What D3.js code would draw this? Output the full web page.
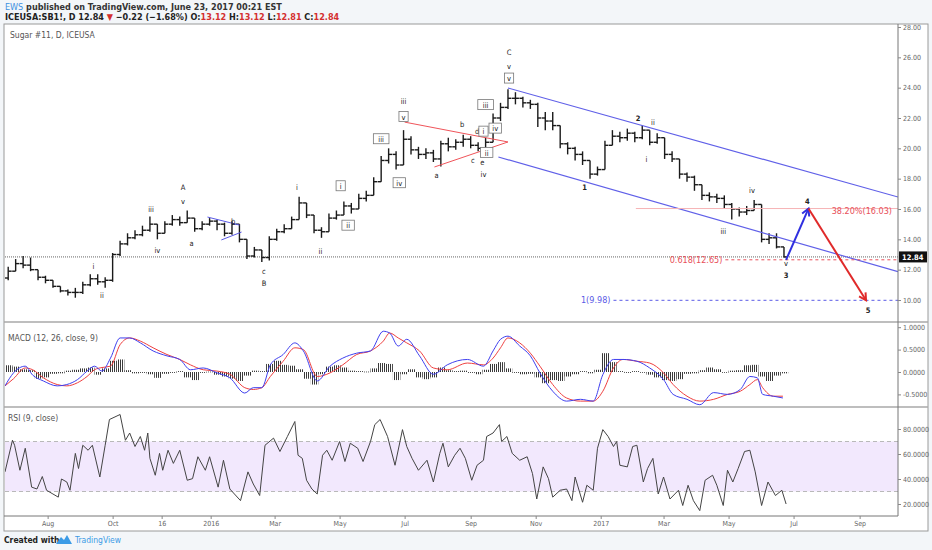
<!DOCTYPE html>
<html lang="en">
<head>
<meta charset="utf-8">
<title>Sugar #11, D, ICEUSA</title>
<script src="https://d3js.org/d3.v7.min.js"></script>
<style>
  body { margin: 0; background: #f3f6f9; }
  svg text { font-family: "Liberation Sans Narrow", "DejaVu Sans Condensed", "Liberation Sans", sans-serif; }
</style>
</head>
<body>
<script>
// first bar of the chart (weekly bars, day offsets counted from here)
const startDate = new Date(2015, 5, 22);
const endDate = new Date(2017, 9, 7);
const firstOpen = 11.45;

// weekly closes / highs / lows
const closes = [11.9,12.4,12.3,12.0,11.5,11.3,10.9,10.6,10.5,10.5,
  11.0,11.4,11.2,11.3,13.0,13.7,14.1,14.3,14.6,15.0,
  14.4,15.0,15.3,15.1,15.4,14.7,15.0,15.2,15.0,14.4,
  15.0,14.0,12.9,13.3,12.8,14.0,14.5,14.7,15.3,16.4,
  15.6,14.6,14.5,15.4,15.6,16.2,16.0,16.7,16.9,17.8,
  19.2,19.6,18.9,20.6,19.9,19.6,19.7,19.3,20.3,20.1,
  20.4,20.6,20.2,20.0,20.4,22.0,22.7,23.3,23.3,23.0,
  22.9,22.0,21.8,21.5,20.3,20.0,19.6,19.2,18.3,18.6,
  20.2,20.8,20.7,21.0,20.7,21.2,20.4,20.7,19.6,19.3,
  18.3,18.1,17.6,16.9,16.8,16.7,16.3,16.0,15.8,15.9,
  16.3,14.0,14.1,13.5,12.84];
const highs = [12.2,12.7,12.9,12.8,12.0,11.6,11.3,10.9,10.7,10.8,
  11.2,11.7,11.7,11.5,13.1,13.9,14.4,14.6,14.9,15.5,
  15.0,15.2,15.6,15.5,15.9,15.3,15.2,15.4,15.3,15.1,
  15.2,15.0,13.9,13.5,13.3,14.2,14.7,15.0,15.5,16.8,
  16.4,15.6,14.8,15.7,15.9,16.5,16.4,17.0,17.2,18.1,
  19.5,20.0,19.8,21.2,20.8,20.1,20.0,19.9,20.5,20.7,
  20.6,20.9,20.8,20.4,20.7,22.3,23.0,23.9,23.7,23.4,
  23.2,23.0,22.4,22.4,21.5,20.4,20.1,19.8,19.2,18.8,
  20.5,21.2,21.1,21.3,21.1,21.5,21.2,21.0,20.7,19.8,
  19.3,18.4,18.2,17.6,17.1,17.0,16.9,16.4,16.1,16.2,
  16.6,16.3,14.4,14.4,13.5];
const lows = [11.3,11.9,12.1,11.9,11.3,11.1,10.8,10.5,10.3,10.15,
  10.4,10.9,11.0,10.8,11.2,12.9,13.6,14.0,14.2,14.5,
  14.0,14.4,14.9,14.9,15.1,14.5,14.6,14.9,14.6,14.2,
  14.3,13.8,12.7,12.8,12.5,12.6,13.9,14.4,14.7,15.3,
  15.4,14.4,14.1,14.5,15.3,15.6,15.7,16.0,16.5,16.9,
  17.8,19.0,18.6,18.9,19.6,19.3,19.3,19.1,18.8,19.8,
  19.9,20.1,20.0,19.8,19.9,20.4,21.8,22.6,22.9,22.7,
  22.6,21.4,21.2,21.2,20.0,19.6,19.2,18.9,18.0,18.2,
  18.6,20.2,20.4,20.5,20.4,20.6,20.2,20.3,19.3,19.1,
  18.0,17.8,17.2,16.6,16.5,16.4,16.0,15.3,15.5,15.6,
  15.9,13.8,13.7,13.4,12.81];

// MACD (12, 26, close, 9)
const macdDays = [0,8,19,26,36,49,58,68,77,84,91,99,108,117,127,139,152,164,174,186,
  199,211,225,233,241,249,261,272,280,293,305,317,330,343,355,361,369,377,389,402,
  415,434,449,458,465,472,483,493,502,514,527,540,552,561,571,580,593,605,618,627,
  640,652,665,678,690,699,706,711,721,730];
const macdLine = [-0.31,-0.02,0.13,-0.07,-0.2,-0.31,-0.28,-0.17,0.02,0.13,0.02,0.31,0.76,0.76,0.65,0.47,0.36,0.28,0.05,0.09,
  -0.02,-0.13,-0.47,-0.35,-0.35,0.16,0.39,0.65,0.47,-0.2,0.13,0.31,0.42,0.47,0.91,0.87,0.58,0.73,0.36,-0.05,
  0.16,0.28,0.13,0.47,0.73,0.8,0.58,0.36,-0.02,-0.43,-0.65,-0.61,-0.65,-0.06,0.28,0.28,0.24,0.09,-0.17,-0.5,
  -0.61,-0.73,-0.46,-0.5,-0.39,-0.1,-0.13,-0.5,-0.54,-0.58];
const signalLine = [-0.31,-0.15,0.09,0.05,-0.13,-0.28,-0.31,-0.24,-0.1,0.05,0.1,0.13,0.61,0.76,0.69,0.54,0.39,0.28,0.16,0.05,
  0.02,-0.05,-0.35,-0.39,-0.35,-0.1,0.24,0.54,0.5,-0.1,-0.02,0.16,0.39,0.47,0.69,0.87,0.76,0.65,0.47,0.09,
  0.05,0.2,0.16,0.31,0.54,0.76,0.65,0.42,0.13,-0.28,-0.58,-0.65,-0.65,-0.43,0.09,0.28,0.24,0.2,-0.02,-0.28,
  -0.54,-0.65,-0.61,-0.5,-0.43,-0.28,-0.17,-0.35,-0.54,-0.54];
// histogram, one value per weekly bar
const macdHist = [0.15,0.12,0.06,0.04,-0.15,-0.12,-0.04,-0.03,0.03,0.05,
  0.08,0.1,-0.06,0.08,0.25,0.28,0.04,-0.03,-0.02,-0.05,
  -0.13,-0.04,-0.02,0.02,-0.12,-0.18,-0.02,0.01,-0.06,-0.1,
  -0.15,-0.2,-0.08,0.03,0.02,0.18,0.25,0.16,0.14,0.06,
  -0.15,-0.28,-0.05,0.12,0.15,0.1,0.03,0.02,0.01,0.08,
  0.2,0.18,-0.18,-0.05,0.06,-0.12,-0.16,-0.12,0.1,0.04,
  0.02,0.03,-0.02,-0.05,0.05,0.18,0.22,0.08,-0.02,-0.05,
  -0.04,-0.12,-0.25,-0.18,-0.2,-0.1,-0.05,0.02,-0.03,0.05,
  0.42,0.22,0.02,-0.02,0.02,-0.01,-0.06,-0.12,-0.18,-0.2,
  -0.16,-0.04,-0.03,0.04,0.1,0.06,0.0,0.03,0.04,0.15,
  0.16,-0.1,-0.2,-0.08,-0.03];

// RSI (9, close)
const rsiDays = [0,7,9,14,19,25,30,35,39,45,50,53,58,61,66,69,73,78,82,89,
  94,98,108,113,117,122,127,131,134,136,141,145,148,153,158,164,171,176,181,188,
  192,200,205,211,221,228,233,239,244,252,258,265,272,275,279,283,288,293,298,302,
  307,314,319,324,331,336,343,347,352,359,366,373,377,382,388,396,402,408,411,416,
  422,427,432,438,443,449,452,458,464,466,471,476,483,490,495,499,505,510,514,521,
  527,532,535,542,546,552,556,561,566,571,574,577,584,589,593,599,603,608,613,618,
  624,632,636,641,646,652,657,664,668,674,678,683,688,694,699,704,710,716,723,729,733];
const rsiVals = [45.7,71,67,47,64.6,33.5,32,42,31,28,25.5,40,37.6,31,60.5,48.4,67,63,67,41.6,
  67,87.6,91.6,71,76.8,66,74,63,76.8,56.5,43,60.5,47,63,52.5,63,39,40.3,57.8,47,
  57.8,33.5,55,32,22.7,45.7,36,26.8,67,72.7,62,74,86,59,56.5,39,32,28,59,63,
  55,70,54,68.6,64.6,54,70,83.5,87.6,74,51,79.5,66,56.5,47,55,37.6,60.5,68.6,49.7,
  59,64.6,56.5,39,51,55,74,76.8,83.5,70,74,60.5,55,57.8,44.3,24,49.7,40.3,25.5,31,
  32,22.7,41.6,21.4,35,31,64.6,79.5,74,66,70,51,49.7,66,67,37.6,48.4,56.5,28,41.6,
  24,31,18.8,35,22.7,14.7,39,43,35,18.8,47,37.6,48.4,62,63,45.7,18.8,37.6,26.8,31,20];

// axis ticks
const priceTicks = [10,12,14,16,18,20,22,24,26,28];
const macdTicks = [1,0.5,0,-0.5];
const rsiTicks = [80,60,40,20];
const timeTicks = ["2015-08-01","2015-10-01","2015-11-16","2016-01-01","2016-03-01","2016-05-01",
  "2016-07-01","2016-09-01","2016-11-01","2017-01-01","2017-03-01","2017-05-01","2017-07-01","2017-09-01"];
const timeLabels = ["Aug","Oct","16","2016","Mar","May","Jul","Sep","Nov","2017","Mar","May","Jul","Sep"];

// Elliott wave labels: [day, price, text, boxed]
const waveLabels = [
  [83,12.24,"i",0],[91,10.33,"ii",0],[137,16.0,"iii",0],[143,13.3,"iv",0],[167,17.45,"A",0],
  [167,16.5,"v",0],[175,13.76,"a",0],[214,15.2,"b",0],[243,11.9,"c",0],[243,11.1,"B",0],
  [274,17.45,"i",0],[296,13.2,"ii",0],[315,17.5,"i",1],[322,14.9,"ii",1],[353,20.6,"iii",1],
  [370,17.7,"iv",1],[374,22.06,"v",1],[374,23.1,"iii",0],
  [405,18.2,"a",0],[429,21.6,"b",0],[439,19.2,"c",0],[443,21.1,"d",0],[449,21.1,"i",1],
  [448,19.1,"e",0],[452,19.7,"ii",1],[449,18.3,"iv",0],[451,22.85,"iii",1],[460,21.3,"iv",1],
  [473,24.6,"v",1],[473,25.4,"v",0],[473,26.3,"C",0],
  [544,17.45,"1",0],[594,22.0,"2",0],[608,21.7,"ii",0],[602,19.3,"i",0],[674,14.5,"iii",0],
  [701,17.25,"iv",0],[733,12.4,"v",0],[733,11.6,"3",0],[753,16.5,"4",0],[810,9.34,"5",0]
];

// drawn lines: [day1, price1, day2, price2]
const triangleLines = [[375,21.73,472,20.42],[403.6,18.77,472,20.42]];
const wedgeLines = [[190.5,15.47,220.5,14.94],[203.7,13.96,222.4,14.48]];
const channelLines = [[472,23.98,838,16.79],[463.6,19.43,838,11.87]];
const upArrow = [733,12.65,754,16.03];
const downArrow = [754,16.03,808,9.98];
const lastPrice = 12.84;

// fib levels: [label, price, first day]
const fib382 = ["38.20%", 16.03, 592];
const fib618 = ["0.618", 12.65, 676];
const fib100 = ["1", 9.98, 571];

const W = 932, H = 550;
const plotL = 5, plotR = 898, frameR = 928;
const mainTop = 25, mainBot = 322, macdBot = 407, rsiBot = 516, frameBot = 531;

const svg = d3.select("body").append("svg")
  .attr("width", W).attr("height", H);

const day = d => d3.timeDay.offset(startDate, d);
const x = d3.scaleTime().domain([startDate, endDate]).range([plotL, plotR]);
const yP = d3.scaleLinear().domain([10, 28]).range([300, 27]);
const yM = d3.scaleLinear().domain([-0.5, 1]).range([394.4, 327.2]);
const yR = d3.scaleLinear().domain([30, 70]).range([491.5, 441.5]);

// header
const hdr = svg.append("text").attr("x", 5).attr("y", 10).attr("font-size", 9);
hdr.append("tspan").attr("fill", "#3d8fe0").text("EWS");
hdr.append("tspan").attr("fill", "#333").attr("font-weight", "bold").text(" published on TradingView.com, June 23, 2017 00:21 EST");
const hdr2 = svg.append("text").attr("x", 5).attr("y", 20).attr("font-size", 9).attr("font-weight", "bold");
hdr2.append("tspan").attr("fill", "#222").text("ICEUSA:SB1!, D  12.84 ");
hdr2.append("tspan").attr("fill", "#d32f2f").text("▼");
hdr2.append("tspan").attr("fill", "#222").text(" −0.22 (−1.68%) O:");
hdr2.append("tspan").attr("fill", "#d32f2f").text("13.12");
hdr2.append("tspan").attr("fill", "#222").text(" H:");
hdr2.append("tspan").attr("fill", "#d32f2f").text("13.12");
hdr2.append("tspan").attr("fill", "#222").text(" L:");
hdr2.append("tspan").attr("fill", "#d32f2f").text("12.81");
hdr2.append("tspan").attr("fill", "#222").text(" C:");
hdr2.append("tspan").attr("fill", "#d32f2f").text("12.84");

// chart frame
svg.append("rect").attr("x", 4).attr("y", mainTop - 1).attr("width", frameR - 4).attr("height", frameBot - mainTop + 1)
  .attr("fill", "#fff").attr("stroke", "#9a9a9a");

const defs = svg.append("defs");
defs.append("clipPath").attr("id", "clipMain").append("rect")
  .attr("x", plotL).attr("y", mainTop).attr("width", plotR - plotL).attr("height", mainBot - mainTop);
defs.append("clipPath").attr("id", "clipMacd").append("rect")
  .attr("x", plotL).attr("y", mainBot + 1).attr("width", plotR - plotL).attr("height", macdBot - mainBot - 1);
defs.append("clipPath").attr("id", "clipRsi").append("rect")
  .attr("x", plotL).attr("y", macdBot + 1).attr("width", plotR - plotL).attr("height", rsiBot - macdBot - 1);
const hatch = defs.append("pattern").attr("id", "hatch").attr("width", 2).attr("height", 4)
  .attr("patternUnits", "userSpaceOnUse");
hatch.append("rect").attr("width", 1).attr("height", 4).attr("fill", "#3a3a3a");

// ---------- main pane ----------
const main = svg.append("g").attr("clip-path", "url(#clipMain)");

main.append("text").attr("x", 10).attr("y", 38).attr("font-size", 8.5).attr("fill", "#555")
  .text("Sugar #11, D, ICEUSA");

// last price dotted line
main.append("line").attr("x1", plotL).attr("x2", plotR)
  .attr("y1", yP(lastPrice)).attr("y2", yP(lastPrice))
  .attr("stroke", "#666").attr("stroke-dasharray", "1,1");

// weekly OHLC bars
const bars = closes.map((c, i) => ({
  d: day(7 * i + 3),
  o: i === 0 ? firstOpen : closes[i - 1],
  h: highs[i], l: lows[i], c: c
}));
const barG = main.append("g").attr("stroke", "#1a1a1a").attr("stroke-width", 1.4);
barG.selectAll(".hl").data(bars).join("line")
  .attr("x1", d => x(d.d)).attr("x2", d => x(d.d))
  .attr("y1", d => yP(Math.max(d.h, d.o, d.c))).attr("y2", d => yP(Math.min(d.l, d.o, d.c)));
barG.selectAll(".op").data(bars).join("line")
  .attr("x1", d => x(d.d) - 3.5).attr("x2", d => x(d.d))
  .attr("y1", d => yP(d.o)).attr("y2", d => yP(d.o));
barG.selectAll(".cl").data(bars).join("line")
  .attr("x1", d => x(d.d)).attr("x2", d => x(d.d) + 3.5)
  .attr("y1", d => yP(d.c)).attr("y2", d => yP(d.c));

function seg(g, arr, color, w) {
  g.selectAll(null).data(arr).join("line")
    .attr("x1", d => x(day(d[0]))).attr("y1", d => yP(d[1]))
    .attr("x2", d => x(day(d[2]))).attr("y2", d => yP(d[3]))
    .attr("stroke", color).attr("stroke-width", w);
}
seg(main, triangleLines, "#f0545a", 1);
seg(main, wedgeLines, "#5a5ae6", 1);
seg(main, channelLines, "#6060e8", 1.2);

// fib levels
main.append("line").attr("x1", x(day(fib382[2]))).attr("x2", plotR)
  .attr("y1", yP(fib382[1])).attr("y2", yP(fib382[1]))
  .attr("stroke", "#f6b3b5").attr("stroke-width", 1);
main.append("text").attr("x", plotR - 6).attr("y", yP(fib382[1]) + 5)
  .attr("text-anchor", "end").attr("font-size", 9).attr("fill", "#e8505a")
  .text(fib382[0] + "(" + fib382[1].toFixed(2) + ")");

main.append("line").attr("x1", x(day(fib618[2]))).attr("x2", plotR)
  .attr("y1", yP(fib618[1])).attr("y2", yP(fib618[1]))
  .attr("stroke", "#e8505a").attr("stroke-dasharray", "3,3");
main.append("text").attr("x", x(day(fib618[2])) - 3).attr("y", yP(fib618[1]) + 3)
  .attr("text-anchor", "end").attr("font-size", 9).attr("fill", "#e8505a")
  .text(fib618[0] + "(" + fib618[1].toFixed(2) + ")");

main.append("line").attr("x1", x(day(fib100[2]))).attr("x2", plotR)
  .attr("y1", yP(fib100[1])).attr("y2", yP(fib100[1]))
  .attr("stroke", "#5a5ae6").attr("stroke-dasharray", "3,3");
main.append("text").attr("x", x(day(fib100[2])) - 3).attr("y", yP(fib100[1]) + 3)
  .attr("text-anchor", "end").attr("font-size", 9).attr("fill", "#5a5ae6")
  .text(fib100[0] + "(" + fib100[1].toFixed(2) + ")");

// projection arrows
function arrow(a, color) {
  const x1 = x(day(a[0])), y1 = yP(a[1]), x2 = x(day(a[2])), y2 = yP(a[3]);
  const ang = Math.atan2(y2 - y1, x2 - x1), L = 8;
  main.append("line").attr("x1", x1).attr("y1", y1).attr("x2", x2).attr("y2", y2)
    .attr("stroke", color).attr("stroke-width", 2);
  main.append("path")
    .attr("d", `M${x2 - L * Math.cos(ang - 0.5)},${y2 - L * Math.sin(ang - 0.5)} L${x2},${y2} L${x2 - L * Math.cos(ang + 0.5)},${y2 - L * Math.sin(ang + 0.5)}`)
    .attr("fill", "none").attr("stroke", color).attr("stroke-width", 2);
}
arrow(upArrow, "#2f2fe0");
arrow(downArrow, "#e02a2a");

// wave labels
const lab = main.selectAll(".wl").data(waveLabels).join("g")
  .attr("transform", d => `translate(${x(day(d[0]))},${yP(d[1])})`);
lab.filter(d => d[3]).append("rect")
  .attr("x", d => -d[2].length * 1.6 - 3).attr("y", -5.5)
  .attr("width", d => d[2].length * 3.2 + 6).attr("height", 10)
  .attr("fill", "#fff").attr("stroke", "#777").attr("stroke-width", 0.8);
lab.append("text").attr("text-anchor", "middle").attr("dy", "0.35em")
  .attr("font-size", 7.5).attr("fill", "#222")
  .attr("font-weight", d => /[0-9]/.test(d[2]) ? "bold" : "normal")
  .text(d => d[2]);

// ---------- MACD pane ----------
const macdG = svg.append("g").attr("clip-path", "url(#clipMacd)");
macdG.append("text").attr("x", 8).attr("y", 341).attr("font-size", 8.5).attr("fill", "#555")
  .text("MACD (12, 26, close, 9)");
const wk = x(day(7)) - x(day(0));
macdG.selectAll(".hb").data(macdHist).join("rect")
  .attr("x", (d, i) => x(day(7 * i)))
  .attr("width", wk)
  .attr("y", d => Math.min(yM(d), yM(0)))
  .attr("height", d => Math.max(0.8, Math.abs(yM(d) - yM(0))))
  .attr("fill", "url(#hatch)");
const lineM = d3.line().x(d => x(day(d[0]))).y(d => yM(d[1])).curve(d3.curveMonotoneX);
macdG.append("path").datum(macdDays.map((d, i) => [d, signalLine[i]]))
  .attr("d", lineM).attr("fill", "none").attr("stroke", "#ef3f3f").attr("stroke-width", 1);
macdG.append("path").datum(macdDays.map((d, i) => [d, macdLine[i]]))
  .attr("d", lineM).attr("fill", "none").attr("stroke", "#3f3fef").attr("stroke-width", 1);

// ---------- RSI pane ----------
const rsiG = svg.append("g").attr("clip-path", "url(#clipRsi)");
rsiG.append("rect").attr("x", plotL).attr("width", plotR - plotL)
  .attr("y", yR(70)).attr("height", yR(30) - yR(70)).attr("fill", "#f2e8fd");
[70, 30].forEach(v => rsiG.append("line").attr("x1", plotL).attr("x2", plotR)
  .attr("y1", yR(v)).attr("y2", yR(v)).attr("stroke", "#b9b9b9").attr("stroke-dasharray", "4,3"));
rsiG.append("text").attr("x", 8).attr("y", 421).attr("font-size", 8.5).attr("fill", "#555")
  .text("RSI (9, close)");
rsiG.append("path").datum(rsiDays.map((d, i) => [d, rsiVals[i]]))
  .attr("d", d3.line().x(d => x(day(d[0]))).y(d => yR(d[1])))
  .attr("fill", "none").attr("stroke", "#444").attr("stroke-width", 1);

// ---------- separators and axes ----------
[mainBot, macdBot].forEach(yy => svg.append("line").attr("x1", 4).attr("x2", frameR)
  .attr("y1", yy).attr("y2", yy).attr("stroke", "#a8a8a8").attr("stroke-width", 1.5));
svg.append("line").attr("x1", plotR).attr("x2", plotR).attr("y1", mainTop - 1).attr("y2", rsiBot)
  .attr("stroke", "#777");
svg.append("line").attr("x1", 4).attr("x2", plotR).attr("y1", rsiBot).attr("y2", rsiBot)
  .attr("stroke", "#777");

function styleAxis(g) {
  g.select(".domain").remove();
  g.selectAll("text").attr("font-size", 7).attr("fill", "#666");
  g.selectAll("line").attr("stroke", "#888");
}
svg.append("g").attr("transform", `translate(${plotR},0)`)
  .call(d3.axisRight(yP).tickValues(priceTicks).tickFormat(d3.format(".2f")).tickSize(3).tickPadding(2))
  .call(styleAxis);
svg.append("g").attr("transform", `translate(${plotR},0)`)
  .call(d3.axisRight(yM).tickValues(macdTicks).tickFormat(d => d.toFixed(4)).tickSize(3).tickPadding(2))
  .call(styleAxis);
svg.append("g").attr("transform", `translate(${plotR},0)`)
  .call(d3.axisRight(yR).tickValues(rsiTicks).tickFormat(d => d.toFixed(4)).tickSize(3).tickPadding(2))
  .call(styleAxis);
const parse = d3.timeParse("%Y-%m-%d");
svg.append("g").attr("transform", `translate(0,${rsiBot})`)
  .call(d3.axisBottom(x).tickValues(timeTicks.map(parse)).tickFormat((d, i) => timeLabels[i]).tickSize(3).tickPadding(2))
  .call(styleAxis);

// last price tag on the axis
svg.append("rect").attr("x", plotR + 1).attr("y", yP(lastPrice) - 5.5).attr("width", 28).attr("height", 11)
  .attr("fill", "#111");
svg.append("text").attr("x", plotR + 4).attr("y", yP(lastPrice) + 3).attr("font-size", 7.5)
  .attr("font-weight", "bold").attr("fill", "#fff").text(lastPrice.toFixed(2));

// footer
svg.append("text").attr("x", 4).attr("y", 543).attr("font-size", 8.5).attr("font-weight", "bold")
  .attr("fill", "#222").text("Created with");
svg.append("path").attr("d", "M56,544 L61,537 L64,540 L67,535 L72,544 Z").attr("fill", "#3c9be6");
svg.append("text").attr("x", 75).attr("y", 543).attr("font-size", 8.5).attr("fill", "#3c9be6")
  .text("TradingView");
</script>
</body>
</html>
